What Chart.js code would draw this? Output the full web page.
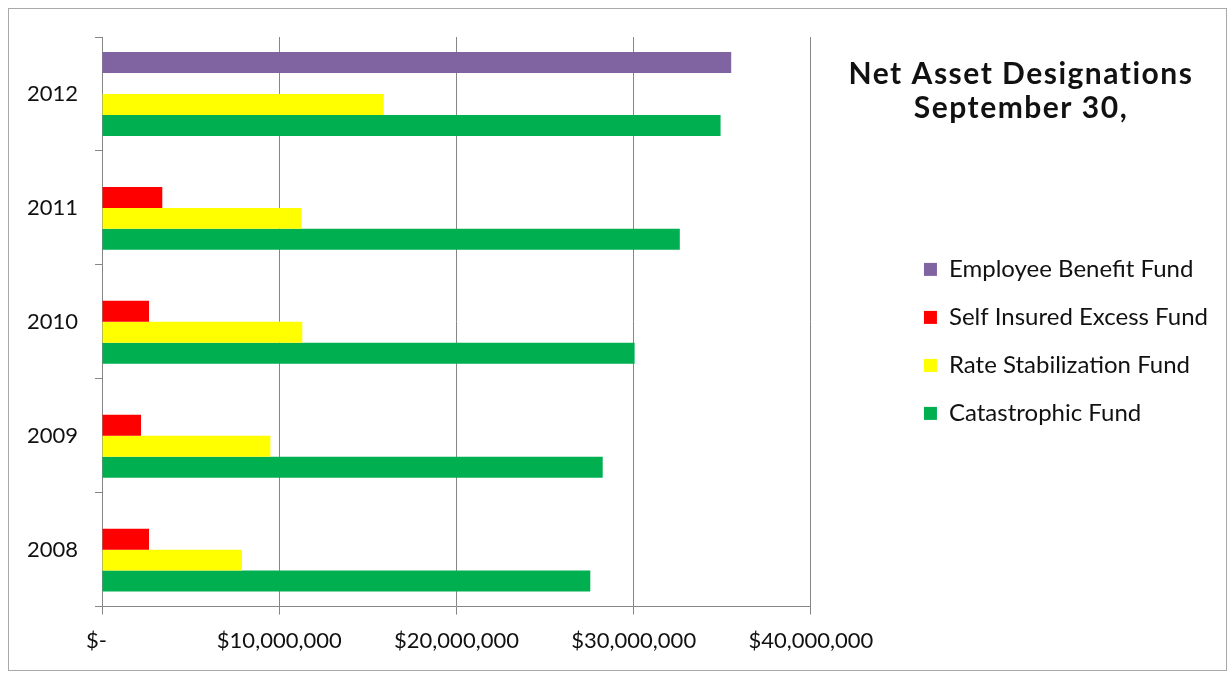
<!DOCTYPE html>
<html>
<head>
<meta charset="utf-8">
<title>Net Asset Designations</title>
<script src="https://cdn.jsdelivr.net/npm/chart.js@4.4.1/dist/chart.umd.min.js"></script>
<style>
  html, body { margin: 0; padding: 0; background: #fff; }
  .chart-wrap { position: relative; width: 1230px; height: 673px; }
  .chart-frame {
    position: absolute; left: 8px; top: 8px; width: 1219px; height: 663px;
    border: 1px solid #a9a9a9; box-sizing: border-box; pointer-events: none;
  }
</style>
</head>
<body>
<div class="chart-wrap">
  <canvas id="assetChart"></canvas>
  <div class="chart-frame"></div>
</div>
<script>
// Fund balances by fiscal year (Sept 30)
const years = ['2012', '2011', '2010', '2009', '2008'];
const employeeBenefit = [35500000, null, null, null, null];
const selfInsuredExcess = [null, 3400000, 2650000, 2200000, 2650000];
const rateStabilization = [15900000, 11250000, 11300000, 9500000, 7900000];
const catastrophic = [34900000, 32600000, 30050000, 28250000, 27550000];

const xTickLabels = ['$-  ', '$10,000,000', '$20,000,000', '$30,000,000', '$40,000,000'];
const titleLines = ['Net Asset Designations', 'September 30,'];

const axisGray = '#868686';
const textColor = '#111';

// Two-line heading sitting above the legend
const titleBlock = {
    id: 'titleBlock',
    afterDraw(chart) {
        const ctx = chart.ctx;
        ctx.save();
        ctx.font = 'bold 30px Lato';
        ctx.letterSpacing = '1.5px';
        ctx.fillStyle = textColor;
        ctx.textAlign = 'center';
        ctx.textBaseline = 'alphabetic';
        ctx.fillText(titleLines[0], 1021, 84);
        ctx.fillText(titleLines[1], 1021, 118);
        ctx.restore();
    }
};

document.addEventListener('DOMContentLoaded', () => {
    Chart.defaults.font.family = 'Lato';
    Chart.defaults.color = textColor;
    buildChart();
});

function buildChart() {
    const ctx = document.getElementById('assetChart');

    new Chart(ctx, {
        type: 'bar',
        data: {
            labels: years,
            datasets: [
                { label: 'Employee Benefit Fund', data: employeeBenefit, backgroundColor: '#8064a2' },
                { label: 'Self Insured Excess Fund', data: selfInsuredExcess, backgroundColor: '#ff0000' },
                { label: 'Rate Stabilization Fund', data: rateStabilization, backgroundColor: '#ffff00' },
                { label: 'Catastrophic Fund', data: catastrophic, backgroundColor: '#00b050' },
            ]
        },
        options: {
            indexAxis: 'y',
            responsive: true,
            maintainAspectRatio: false,
            animation: false,
            barPercentage: 1,
            categoryPercentage: 0.736,
            layout: {
                padding: { left: 10, top: 37, right: 12, bottom: 6 }
            },
            plugins: {
                legend: {
                    position: 'right',
                    align: 'start',
                    maxWidth: 360,
                    // blank title keeps the key below the heading
                    title: {
                        display: true,
                        text: '',
                        font: { size: 12 },
                        padding: { top: 0, bottom: 182 }
                    },
                    labels: {
                        boxWidth: 13,
                        boxHeight: 13,
                        padding: 24,
                        color: textColor,
                        font: { size: 24 }
                    }
                },
                tooltip: { enabled: false }
            },
            scales: {
                x: {
                    min: 0,
                    max: 40000000,
                    ticks: {
                        stepSize: 10000000,
                        padding: 13,
                        color: textColor,
                        font: { size: 22 },
                        callback: (value, i) => xTickLabels[i]
                    },
                    grid: {
                        color: axisGray,
                        tickLength: 8
                    },
                    border: { color: axisGray }
                },
                y: {
                    ticks: {
                        padding: 17,
                        color: textColor,
                        font: { size: 22 }
                    },
                    grid: {
                        color: axisGray,
                        drawOnChartArea: false,
                        tickLength: 7
                    },
                    border: { color: axisGray }
                },
                // empty spacer between the plot and the legend
                legendGap: {
                    type: 'category',
                    axis: 'y',
                    position: 'right',
                    labels: years,
                    ticks: { display: false },
                    grid: { display: false },
                    border: { display: false },
                    afterFit: (scale) => { scale.width = 89; }
                }
            }
        },
        plugins: [titleBlock]
    });
}
</script>
</body>
</html>
